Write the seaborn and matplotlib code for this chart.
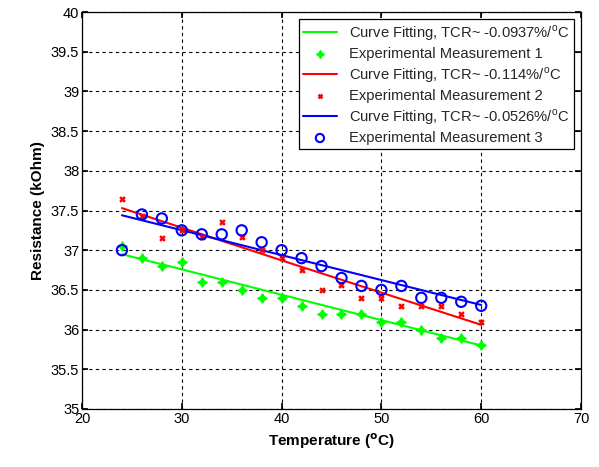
import seaborn as sns
import matplotlib.pyplot as plt
import pandas as pd

sns.set_theme(style='white')
plt.rcParams['font.family'] = ['Liberation Sans', 'DejaVu Sans']
plt.rcParams['mathtext.fontset'] = 'custom'
plt.rcParams['mathtext.rm'] = 'Liberation Sans'

temp = [24, 26, 28, 30, 32, 34, 36, 38, 40, 42, 44, 46, 48, 50, 52, 54, 56, 58, 60]
meas1 = [37.05, 36.9, 36.8, 36.85, 36.6, 36.6, 36.5, 36.4, 36.4, 36.3,
         36.2, 36.2, 36.2, 36.1, 36.1, 36.0, 35.9, 35.9, 35.8]
meas2 = [37.65, 37.43, 37.15, 37.25, 37.17, 37.35, 37.17, 37.0, 36.9, 36.75,
         36.5, 36.56, 36.4, 36.4, 36.3, 36.3, 36.3, 36.2, 36.1]
meas3 = [37.0, 37.45, 37.4, 37.25, 37.2, 37.2, 37.25, 37.1, 37.0, 36.9,
         36.8, 36.65, 36.55, 36.5, 36.55, 36.4, 36.4, 36.35, 36.3]

fit_t = [24, 42, 60]
fit1 = [36.95, 36.375, 35.80]
fit2 = [37.53, 36.79, 36.06]
fit3 = [37.44, 36.875, 36.31]

deg = r'$^\mathrm{o}$C'
labels_fit = [f'Curve Fitting, TCR~ -0.0937%/{deg}',
              f'Curve Fitting, TCR~ -0.114%/{deg}',
              f'Curve Fitting, TCR~ -0.0526%/{deg}']
labels_meas = ['Experimental Measurement 1', 'Experimental Measurement 2',
               'Experimental Measurement 3']

GREEN, RED, BLUE = '#00ff00', '#ff0000', '#0000ff'

df_meas = pd.DataFrame({'T': temp, 'm1': meas1, 'm2': meas2, 'm3': meas3})
df_fit = pd.DataFrame({'T': fit_t, 'f1': fit1, 'f2': fit2, 'f3': fit3})

fig = plt.figure(figsize=(5.99, 4.67), dpi=100)
ax = fig.add_axes([82 / 599, 1 - 409 / 467, (581 - 82) / 599, (409 - 12) / 467])

sns.lineplot(data=df_fit, x='T', y='f1', color=GREEN, lw=1.5, ax=ax, label=labels_fit[0])
ax.scatter(df_meas['T'], df_meas['m1'], marker=(4, 1, 0), s=38, color=GREEN,
           linewidths=1.4, edgecolors=GREEN, label=labels_meas[0], zorder=3)
sns.lineplot(data=df_fit, x='T', y='f2', color=RED, lw=1.5, ax=ax, label=labels_fit[1])
ax.scatter(df_meas['T'], df_meas['m2'], marker='x', s=12, color=RED,
           linewidths=1.8, label=labels_meas[1], zorder=3)
sns.lineplot(data=df_fit, x='T', y='f3', color=BLUE, lw=1.5, ax=ax, label=labels_fit[2])
ax.scatter(df_meas['T'], df_meas['m3'], marker='o', s=55, facecolors='none',
           edgecolors=BLUE, linewidths=1.5, label=labels_meas[2], zorder=3)

ax.set_xlim(20, 70)
ax.set_ylim(35, 40)
ax.set_xticks(range(20, 71, 10))
ax.set_yticks([35, 35.5, 36, 36.5, 37, 37.5, 38, 38.5, 39, 39.5, 40])
ax.set_yticklabels(['35', '35.5', '36', '36.5', '37', '37.5', '38', '38.5', '39', '39.5', '40'])
ax.grid(True, color='black', linestyle=(0, (3, 3)), lw=0.8)
ax.tick_params(direction='in', length=4, labelsize=10.5, colors='black',
               top=True, right=True, bottom=True, left=True, pad=2)
for sp in ax.spines.values():
    sp.set_edgecolor('black')
    sp.set_linewidth(0.9)

ax.set_xlabel(r'Temperature ($^\mathbf{o}$C)', fontsize=11, fontweight='bold', color='black')
ax.set_ylabel('Resistance (kOhm)', fontsize=11, fontweight='bold', color='black')

leg = ax.legend(loc='upper right', bbox_to_anchor=(0.985, 0.983), fontsize=10.6,
                frameon=True, fancybox=False, edgecolor='black', framealpha=1,
                borderpad=0.3, labelspacing=0.28, handlelength=2.3,
                handletextpad=0.8, borderaxespad=0, markerscale=0.8)
leg.get_frame().set_linewidth(0.9)

fig.savefig('out.png', dpi=100)
